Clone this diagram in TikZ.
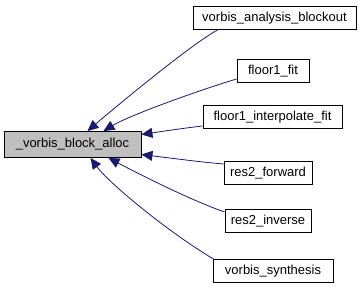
\documentclass[tikz,border=0pt]{standalone}
\usepackage{fontspec}
\setmainfont{Liberation Sans}
\usepackage{xcolor}
\usetikzlibrary{arrows.meta}

\definecolor{boxgray}{HTML}{BFBFBF}
\definecolor{edgeblue}{HTML}{191970}

\begin{document}
\begin{tikzpicture}[
  x=1pt, y=1pt,
  font=\fontsize{13}{15}\selectfont,
  >={Triangle[length=11pt,width=10pt]},
  fnbox/.style={
    draw=black,
    fill=white,
    line width=0.9pt,
    inner sep=0pt,
    minimum height=23pt,
    minimum width=#1
  },
  mainbox/.style={
    fnbox=137pt,
    fill=boxgray,
    minimum height=26pt
  },
  call/.style={<-,line width=0.8pt,draw=edgeblue,fill=none}
]
\useasboundingbox (0,0) rectangle (363,-291);

\node[mainbox] (alloc) at (72.5,-144.5) {\_vorbis\_block\_alloc};

\node[fnbox=163pt] (blockout) at (274.5,-18) {vorbis\_analysis\_blockout};
\node[fnbox=72pt] (floorfit) at (273,-71) {floor1\_fit};
\node[fnbox=139pt] (floorinterp) at (272.5,-117) {floor1\_interpolate\_fit};
\node[fnbox=88pt] (resforward) at (268,-173) {res2\_forward};
\node[fnbox=86pt] (resinverse) at (268,-221) {res2\_inverse};
\node[fnbox=120pt] (synthesis) at (273,-271) {vorbis\_synthesis};

% callers, arrow heads land on _vorbis_block_alloc
\draw[call] ([xshift=15pt]alloc.north) .. controls (112,-110) and (190,-45) .. ([xshift=25pt]blockout.south west);
\draw[call] ([xshift=31pt]alloc.north) .. controls (130,-115) and (200,-90) .. ([yshift=-8pt]floorfit.west);
\draw[call] ([yshift=10pt]alloc.east) .. controls (165,-131) and (185,-128) .. ([yshift=-9pt]floorinterp.west);
\draw[call] ([yshift=-10pt]alloc.east) .. controls (170,-158) and (200,-162) .. ([yshift=9pt]resforward.west);
\draw[call] ([xshift=36pt]alloc.south) .. controls (135,-172) and (190,-200) .. ([yshift=9pt]resinverse.west);
\draw[call] ([xshift=18pt]alloc.south) .. controls (108,-182) and (165,-230) .. ([xshift=1pt]synthesis.north west);
\end{tikzpicture}
\end{document}
